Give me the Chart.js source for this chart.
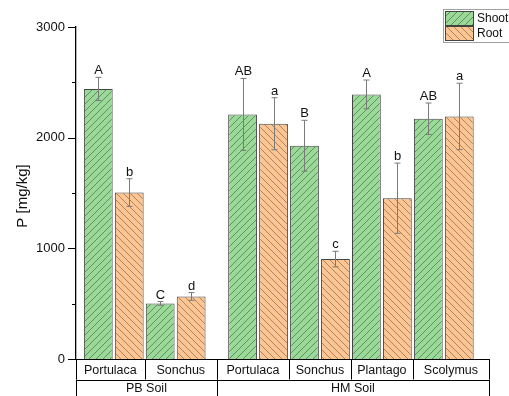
<!DOCTYPE html>
<html>
<head>
<meta charset="utf-8">
<script src="https://cdn.jsdelivr.net/npm/chart.js@4.4.1/dist/chart.umd.min.js"></script>
<style>
  html, body { margin: 0; padding: 0; background: #fff; }
  #wrap { width: 509px; height: 396px; }
</style>
</head>
<body>
<div id="wrap"><canvas id="chart"></canvas></div>
<script>
const plants = ["Portulaca", "Sonchus", "Portulaca", "Sonchus", "Plantago", "Scolymus"];
const soils = ["PB Soil", "PB Soil", "HM Soil", "HM Soil", "HM Soil", "HM Soil"];
const shootValues = [2440, 502, 2210, 1927, 2391, 2171];
const shootErrors = [105, 17, 325, 230, 130, 142];
const shootLetters = ["A", "C", "AB", "B", "A", "AB"];
const rootValues = [1504, 565, 2126, 903, 1453, 2192];
const rootErrors = [125, 35, 235, 70, 317, 300];
const rootLetters = ["b", "d", "a", "c", "b", "a"];
const seriesNames = ["Shoot", "Root"];
const yTickStep = 1000;
const yMinorStep = 500;
const yMax = 3000;

const FONT = "'Liberation Sans', Arial, sans-serif";
const GROUP_GAP = 0.33; // extra space between the two soil groups

// x position of each plant group: index plus a gap once the soil changes
const xPos = plants.map((p, i) => {
  let gaps = 0;
  for (let k = 1; k <= i; k++) if (soils[k] !== soils[k - 1]) gaps++;
  return i + gaps * GROUP_GAP;
});

const makeHatch = (bg, fg, dir) => {
  const s = 7;
  const c = document.createElement("canvas");
  c.width = s;
  c.height = s;
  const g = c.getContext("2d");
  g.fillStyle = bg;
  g.fillRect(0, 0, s, s);
  g.strokeStyle = fg;
  g.lineWidth = 0.9;
  g.beginPath();
  if (dir === "/") {
    g.moveTo(0, s); g.lineTo(s, 0);
    g.moveTo(-1, 1); g.lineTo(1, -1);
    g.moveTo(s - 1, s + 1); g.lineTo(s + 1, s - 1);
  } else {
    g.moveTo(0, 0); g.lineTo(s, s);
    g.moveTo(-1, s - 1); g.lineTo(1, s + 1);
    g.moveTo(s - 1, -1); g.lineTo(s + 1, 1);
  }
  g.stroke();
  return g.createPattern(c, "repeat");
};

const ctx = document.getElementById("chart").getContext("2d");
const shootFill = makeHatch("#9dd89b", "#4f8f4f", "/");
const rootFill = makeHatch("#fcc594", "#a87a52", "\\");

const errors = [shootErrors, rootErrors];
const letters = [shootLetters, rootLetters];

const decorPlugin = {
  id: "decor",
  afterDatasetsDraw(chart) {
    const c = chart.ctx;
    const ys = chart.scales.y;
    c.save();
    chart.data.datasets.forEach((ds, d) => {
      const meta = chart.getDatasetMeta(d);
      meta.data.forEach((bar, i) => {
        const v = ds.data[i].y;
        const e = errors[d][i];
        const x = Math.round(bar.x) + 0.5;
        const yt = ys.getPixelForValue(v + e);
        const yb = ys.getPixelForValue(v - e);
        c.strokeStyle = "#7a7a7a";
        c.lineWidth = 1;
        c.beginPath();
        c.moveTo(x, yt); c.lineTo(x, yb);
        c.moveTo(x - 3, yt); c.lineTo(x + 3, yt);
        c.moveTo(x - 3, yb); c.lineTo(x + 3, yb);
        c.stroke();
        c.fillStyle = "#111";
        c.font = "13px " + FONT;
        c.textAlign = "center";
        c.textBaseline = "alphabetic";
        c.fillText(letters[d][i], x, yt - 3);
      });
    });
    c.restore();
  },
  afterDraw(chart) {
    const c = chart.ctx;
    const { left, right, top, bottom } = chart.chartArea;
    const xs = chart.scales.x;
    const ys = chart.scales.y;
    c.save();

    // y minor / major ticks
    c.strokeStyle = "#000";
    c.lineWidth = 1;
    c.beginPath();
    for (let v = 0; v <= yMax; v += yMinorStep) {
      const y = Math.round(ys.getPixelForValue(v)) + 0.5;
      const len = v % yTickStep === 0 ? 8 : 4;
      c.moveTo(left - len, y);
      c.lineTo(left, y);
    }
    c.stroke();

    // category table under the plot
    const px = xPos.map((p) => xs.getPixelForValue(p));
    const bounds = [left];
    for (let i = 0; i < px.length - 1; i++) bounds.push((px[i] + px[i + 1]) / 2);
    bounds.push(right);
    const row1 = bottom + 20.5;
    const H = chart.height;
    const snap = (v) => Math.round(v) + 0.5;
    c.strokeStyle = "#000";
    c.lineWidth = 1;
    c.beginPath();
    c.moveTo(left, snap(bottom)); c.lineTo(right, snap(bottom));
    c.moveTo(left, snap(row1)); c.lineTo(right, snap(row1));
    bounds.forEach((b) => {
      c.moveTo(snap(b), bottom); c.lineTo(snap(b), row1);
    });
    const soilBounds = [0];
    for (let i = 1; i < soils.length; i++) if (soils[i] !== soils[i - 1]) soilBounds.push(i);
    soilBounds.push(soils.length);
    soilBounds.forEach((k) => {
      c.moveTo(snap(bounds[k]), row1); c.lineTo(snap(bounds[k]), H);
    });
    c.stroke();

    c.fillStyle = "#111";
    c.font = "12.5px " + FONT;
    c.textAlign = "center";
    c.textBaseline = "middle";
    plants.forEach((p, i) => {
      c.fillText(p, (bounds[i] + bounds[i + 1]) / 2, (bottom + row1) / 2 + 1);
    });
    for (let s = 0; s < soilBounds.length - 1; s++) {
      const a = bounds[soilBounds[s]];
      const b = bounds[soilBounds[s + 1]];
      c.fillText(soils[soilBounds[s]], (a + b) / 2, row1 + 9.5);
    }

    // y axis title
    c.save();
    c.translate(23, (top + bottom) / 2 + 3);
    c.rotate(-Math.PI / 2);
    c.font = "15px " + FONT;
    c.fillText("P [mg/kg]", 0, 0);
    c.restore();

    // legend
    c.fillStyle = "#fff";
    c.fillRect(443.5, 9.5, 70, 33);
    c.strokeStyle = "#a0a0a0";
    c.strokeRect(443.5, 9.5, 70, 33);
    const fills = [shootFill, rootFill];
    seriesNames.forEach((name, k) => {
      const y0 = 11.5 + k * 15;
      c.fillStyle = fills[k];
      c.fillRect(445.5, y0, 28, 14);
      c.strokeStyle = "#444";
      c.strokeRect(445.5, y0, 28, 14);
      c.fillStyle = "#111";
      c.font = "12px " + FONT;
      c.textAlign = "left";
      c.textBaseline = "middle";
      c.fillText(name, 477, y0 + 7.5);
    });
    c.restore();
  },
};

new Chart(ctx, {
  type: "bar",
  data: {
    datasets: [
      {
        label: seriesNames[0],
        data: shootValues.map((v, i) => ({ x: xPos[i], y: v })),
        backgroundColor: shootFill,
        borderColor: "#444",
        borderWidth: 1,
      },
      {
        label: seriesNames[1],
        data: rootValues.map((v, i) => ({ x: xPos[i], y: v })),
        backgroundColor: rootFill,
        borderColor: "#444",
        borderWidth: 1,
      },
    ],
  },
  options: {
    responsive: true,
    maintainAspectRatio: false,
    devicePixelRatio: 1,
    animation: false,
    categoryPercentage: 1,
    barPercentage: 0.93,
    layout: { padding: { left: 0, right: 20, top: 27, bottom: 37 } },
    plugins: { legend: { display: false }, tooltip: { enabled: false } },
    scales: {
      x: {
        type: "linear",
        display: false,
        offset: false,
        bounds: "data",
        min: -0.61,
        max: xPos[xPos.length - 1] + 0.73,
        ticks: { stepSize: 1, includeBounds: false },
        grid: { display: false, offset: false },
      },
      y: {
        min: 0,
        max: yMax,
        afterFit: (s) => { s.width = 76; },
        ticks: {
          stepSize: yTickStep,
          padding: 11,
          color: "#111",
          font: { family: FONT, size: 13 },
          callback: (v) => String(v),
        },
        grid: { display: false, drawTicks: false },
        border: { display: true, color: "#000", width: 1.3 },
      },
    },
  },
  plugins: [decorPlugin],
});
</script>
</body>
</html>
